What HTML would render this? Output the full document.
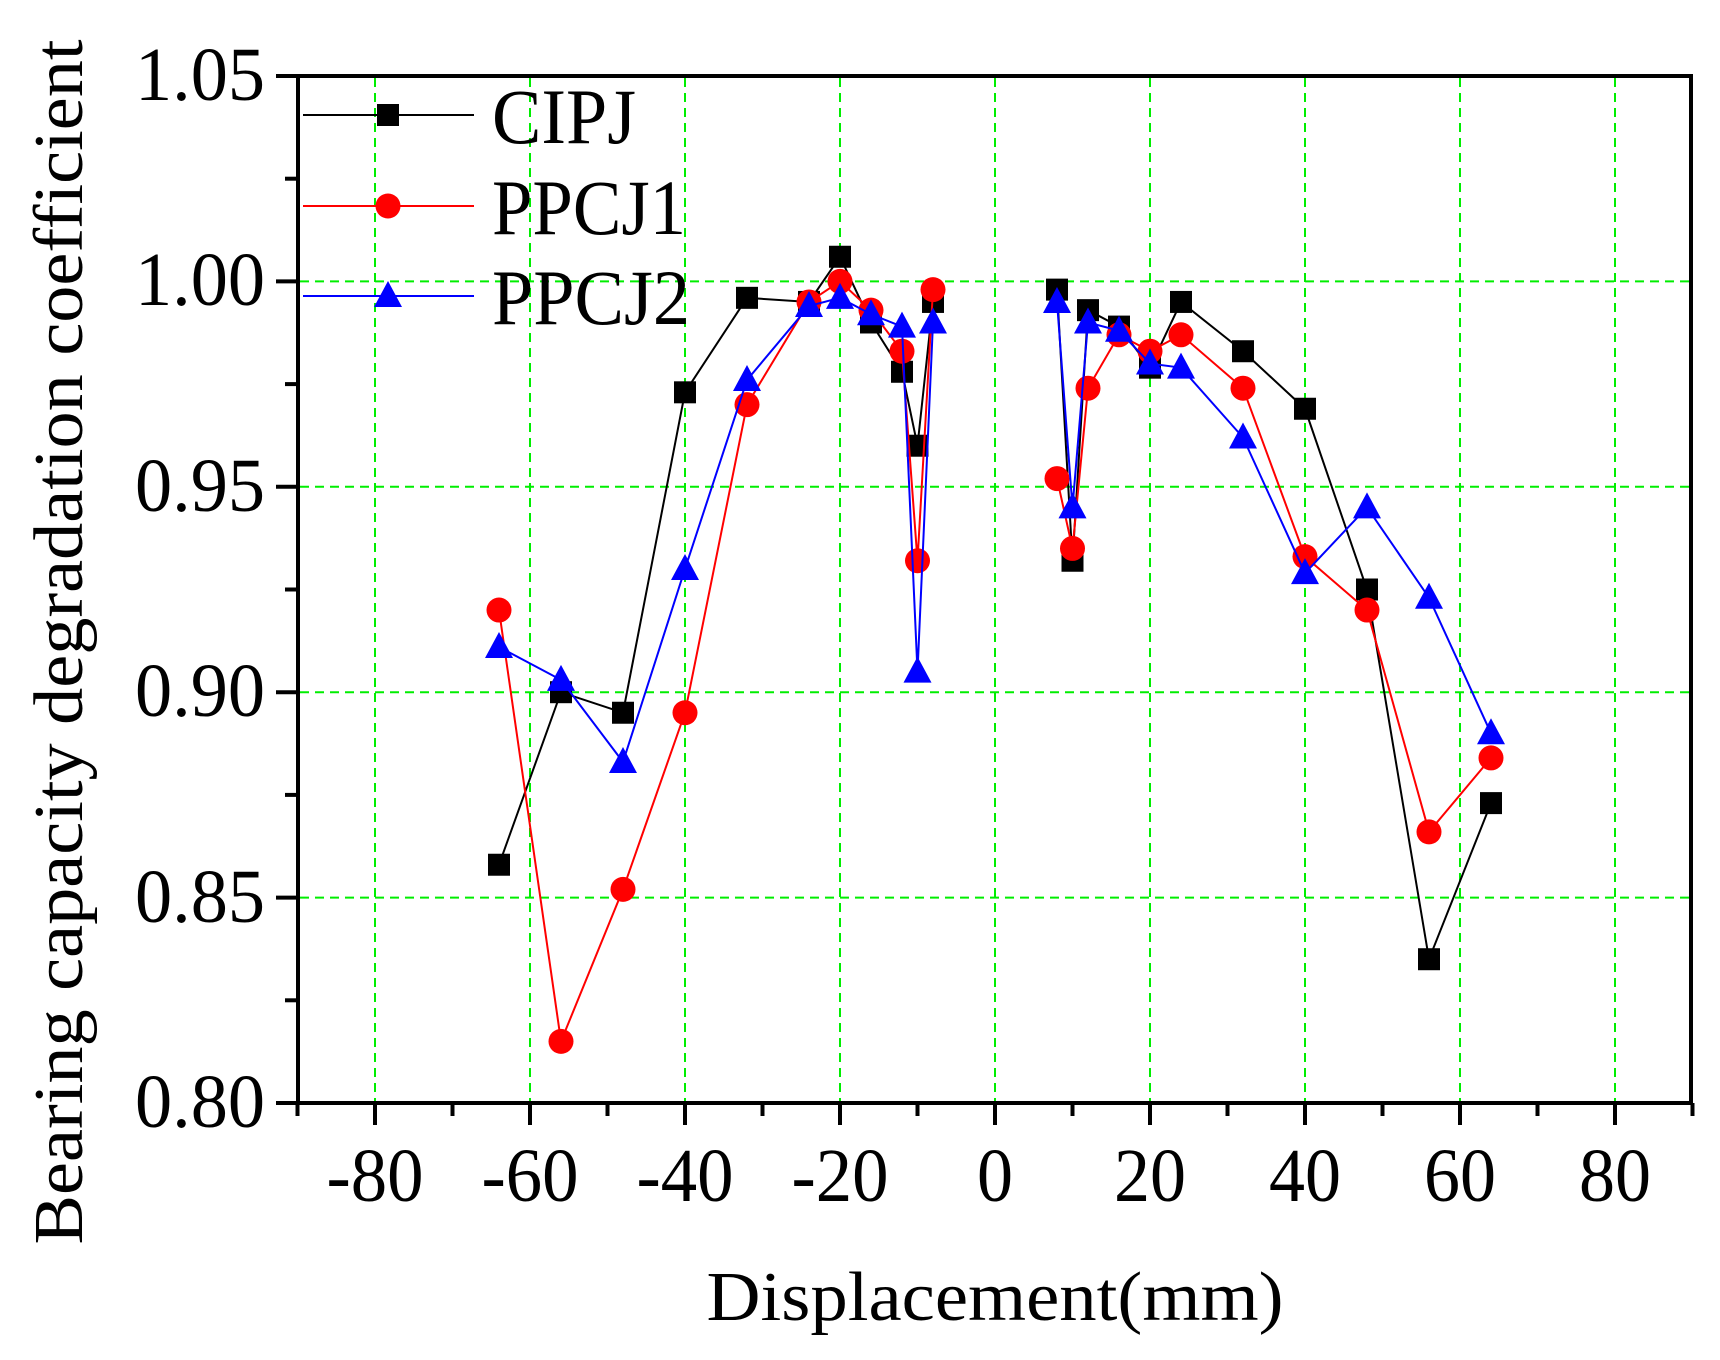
<!DOCTYPE html>
<html><head><meta charset="utf-8"><style>body{margin:0;background:#fff}svg{display:block}</style></head>
<body>
<svg id="s" width="1720" height="1360" xmlns="http://www.w3.org/2000/svg" font-family="Liberation Serif, serif">
<g id="grid" stroke="#00ee00" stroke-width="2" stroke-dasharray="9,6"></g>
<g id="axes" stroke="#000" stroke-width="4" fill="none"></g>
<g id="ticklabels" font-size="76" fill="#000" lengthAdjust="spacingAndGlyphs">
<text x="265" y="1127" text-anchor="end" textLength="130" lengthAdjust="spacingAndGlyphs">0.80</text>
<text x="265" y="922" text-anchor="end" textLength="130" lengthAdjust="spacingAndGlyphs">0.85</text>
<text x="265" y="716" text-anchor="end" textLength="130" lengthAdjust="spacingAndGlyphs">0.90</text>
<text x="265" y="511" text-anchor="end" textLength="130" lengthAdjust="spacingAndGlyphs">0.95</text>
<text x="265" y="305" text-anchor="end" textLength="130" lengthAdjust="spacingAndGlyphs">1.00</text>
<text x="265" y="100" text-anchor="end" textLength="130" lengthAdjust="spacingAndGlyphs">1.05</text>
<text x="375" y="1201" text-anchor="middle" textLength="97" lengthAdjust="spacingAndGlyphs">-80</text>
<text x="530" y="1201" text-anchor="middle" textLength="97" lengthAdjust="spacingAndGlyphs">-60</text>
<text x="685" y="1201" text-anchor="middle" textLength="97" lengthAdjust="spacingAndGlyphs">-40</text>
<text x="840" y="1201" text-anchor="middle" textLength="97" lengthAdjust="spacingAndGlyphs">-20</text>
<text x="995" y="1201" text-anchor="middle" textLength="36" lengthAdjust="spacingAndGlyphs">0</text>
<text x="1150" y="1201" text-anchor="middle" textLength="72" lengthAdjust="spacingAndGlyphs">20</text>
<text x="1305" y="1201" text-anchor="middle" textLength="72" lengthAdjust="spacingAndGlyphs">40</text>
<text x="1460" y="1201" text-anchor="middle" textLength="72" lengthAdjust="spacingAndGlyphs">60</text>
<text x="1615" y="1201" text-anchor="middle" textLength="72" lengthAdjust="spacingAndGlyphs">80</text>
</g>
<text x="995" y="1320" font-size="70" text-anchor="middle" textLength="577" lengthAdjust="spacingAndGlyphs">Displacement(mm)</text>
<text transform="translate(82,642) rotate(-90)" font-size="70" text-anchor="middle" textLength="1205" lengthAdjust="spacingAndGlyphs">Bearing capacity degradation coefficient</text>
<g id="series"></g>
<g font-size="78" fill="#000">
<text x="492" y="143" textLength="144" lengthAdjust="spacingAndGlyphs">CIPJ</text>
<text x="492" y="234" textLength="194" lengthAdjust="spacingAndGlyphs">PPCJ1</text>
<text x="492" y="324" textLength="198" lengthAdjust="spacingAndGlyphs">PPCJ2</text>
</g>
</svg>
<script>
const NS="http://www.w3.org/2000/svg";
const X=v=>995+v*7.75, Y=v=>1103-(v-0.8)*4108;
function el(p,t,a){const e=document.createElementNS(NS,t);for(const k in a)e.setAttribute(k,a[k]);p.appendChild(e);return e;}
const g=document.getElementById('grid');
for(let v=-80;v<=80;v+=20)el(g,'line',{x1:X(v),x2:X(v),y1:78,y2:1101});
for(const v of [0.85,0.9,0.95,1.0])el(g,'line',{x1:300,x2:1689,y1:Y(v),y2:Y(v)});
const a=document.getElementById('axes');
el(a,'rect',{x:298,y:76,width:1393,height:1027});
for(let v=-90;v<=90;v+=10){const maj=v%20==0;el(a,'line',{x1:X(v),x2:X(v),y1:1103,y2:1103+(maj?22:13)});}
for(let i=0;i<=10;i++){const v=0.8+i*0.025;el(a,'line',{x1:298,x2:298-(i%2==0?22:13),y1:Y(v),y2:Y(v)});}
const xs=[-64,-56,-48,-40,-32,-24,-20,-16,-12,-10,-8,8,10,12,16,20,24,32,40,48,56,64];
const D={
k:[.858,.900,.895,.973,.996,.995,1.006,.990,.978,.960,.995,.998,.932,.993,.989,.979,.995,.983,.969,.925,.835,.873],
r:[.920,.815,.852,.895,.970,.995,1.000,.993,.983,.932,.998,.952,.935,.974,.987,.983,.987,.974,.933,.920,.866,.884],
b:[.911,.903,.883,.930,.976,.994,.996,.992,.989,.905,.990,.995,.945,.990,.988,.980,.979,.962,.929,.945,.923,.890]};
const S=document.getElementById('series');
function mk(p,type,x,y,c){
 if(type=='k')el(p,'rect',{x:x-11,y:y-11,width:22,height:22,fill:c});
 else if(type=='r')el(p,'circle',{cx:x,cy:y,r:12.5,fill:c});
 else el(p,'polygon',{points:`${x},${y-15} ${x-14},${y+11} ${x+14},${y+11}`,fill:c});
}
const col={k:'#000',r:'#f00',b:'#00f'};
for(const t of ['k','r','b']){
 const gg=el(S,'g',{});
 for(const seg of [[0,11],[11,22]]){
  let pts=[];for(let i=seg[0];i<seg[1];i++)pts.push(X(xs[i])+','+Y(D[t][i]));
  el(gg,'polyline',{points:pts.join(' '),fill:'none',stroke:col[t],'stroke-width':2});
 }
 for(let i=0;i<22;i++)mk(gg,t,X(xs[i]),Y(D[t][i]),col[t]);
}
const ly={k:115,r:206,b:296};
for(const t of ['k','r','b']){el(S,'line',{x1:303,x2:474,y1:ly[t],y2:ly[t],stroke:col[t],'stroke-width':2});mk(S,t,388,ly[t],col[t]);}
</script>
</body></html>
